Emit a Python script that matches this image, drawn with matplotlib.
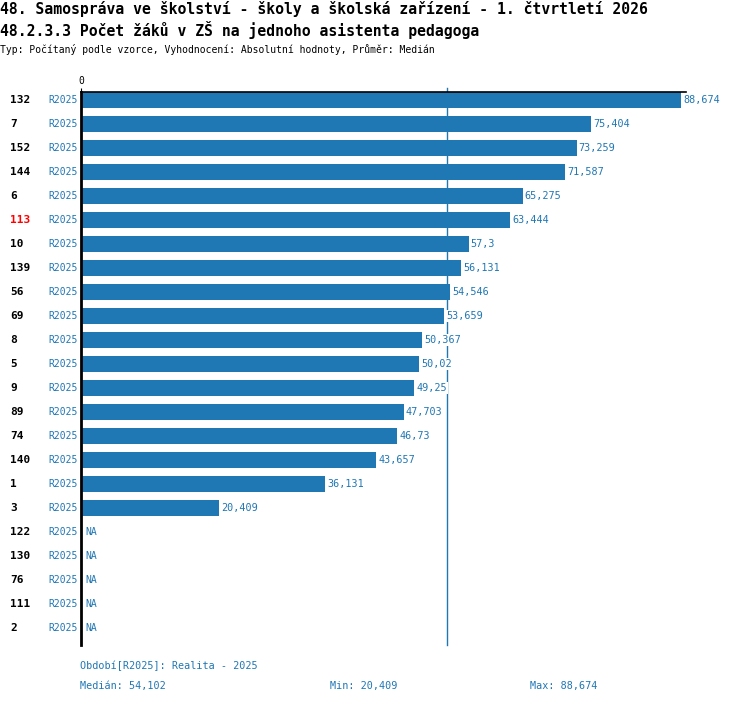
import matplotlib
matplotlib.use("Agg")
import matplotlib.pyplot as plt

# data
codes = ["132", "7", "152", "144", "6", "113", "10", "139", "56", "69", "8", "5",
         "9", "89", "74", "140", "1", "3", "122", "130", "76", "111", "2"]
values = [88.674, 75.404, 73.259, 71.587, 65.275, 63.444, 57.3, 56.131, 54.546,
          53.659, 50.367, 50.02, 49.25, 47.703, 46.73, 43.657, 36.131, 20.409,
          None, None, None, None, None]
period = "R2025"
highlight = "113"
median_val = 54.102
min_val = 20.409
max_val = 88.674

blue = "#1f77b4"
mono = "DejaVu Sans Mono"


def fmt(v):
    s = ("%.3f" % v).rstrip("0").rstrip(".")
    return s.replace(".", ",")


fig = plt.figure(figsize=(7.5, 7.04), dpi=100)
ax = fig.add_axes([0.108, 0.0838, 0.8067, 0.7855])

n = len(codes)
ys = list(range(n))
bar_vals = [v if v is not None else 0 for v in values]
ax.barh(ys, bar_vals, height=0.667, color=blue, zorder=2)

ax.set_xlim(0, max_val * 605 / 600)
ax.set_ylim(n - 1 + 17 / 24, -8 / 24)

# median line (pokracuje kousek nad osu)
ax.plot([median_val, median_val], [n - 1 + 17 / 24, -12 / 24], color=blue, lw=1,
        zorder=1, clip_on=False)

for y, v in zip(ys, values):
    if v is None:
        ax.text(0.6, y, "NA", color=blue, fontsize=7, family=mono,
                va="center", ha="left", zorder=3)
    else:
        ax.text(v + 0.3, y, fmt(v), color=blue, fontsize=7.3, family=mono,
                va="center", ha="left", zorder=3,
                bbox=dict(facecolor="white", edgecolor="none", pad=0.5))

# row labels (offsets in points, 1 px = 0.72 pt)
for y, c in zip(ys, codes):
    ax.annotate(c, xy=(0, y), xycoords=("axes fraction", "data"),
                xytext=(-51, 0), textcoords="offset points",
                fontsize=8, family=mono, fontweight="bold", va="center",
                ha="left", color="red" if c == highlight else "black")
    ax.annotate(period, xy=(0, y), xycoords=("axes fraction", "data"),
                xytext=(-2, 0), textcoords="offset points",
                fontsize=7, family=mono, va="center", ha="right", color=blue)

for s in ["right", "bottom"]:
    ax.spines[s].set_visible(False)
ax.spines["left"].set_linewidth(2)
ax.spines["top"].set_linewidth(1.2)
ax.set_yticks([])
ax.set_xticks([0])
ax.set_xticklabels(["0"], family=mono, fontsize=7)
ax.xaxis.tick_top()
ax.tick_params(axis="x", length=3, pad=1)

fig.text(0.0, 1 - 1 / 704, "48. Samospráva ve školství - školy a školská zařízení - 1. čtvrtletí 2026",
         fontsize=10.6, family=mono, fontweight="bold", va="top", ha="left")
fig.text(0.0, 1 - 21 / 704, "48.2.3.3 Počet žáků v ZŠ na jednoho asistenta pedagoga",
         fontsize=10.6, family=mono, fontweight="bold", va="top", ha="left")
fig.text(0.0, 1 - 44 / 704, "Typ: Počítaný podle vzorce, Vyhodnocení: Absolutní hodnoty, Průměr: Medián",
         fontsize=7, family=mono, va="top", ha="left")

fig.text(80 / 750, 1 - 666 / 704, "Období[R2025]: Realita - 2025",
         fontsize=7.3, family=mono, va="center", ha="left", color=blue)
fig.text(80 / 750, 1 - 686 / 704, "Medián: " + fmt(median_val),
         fontsize=7.3, family=mono, va="center", ha="left", color=blue)
fig.text(330 / 750, 1 - 686 / 704, "Min: " + fmt(min_val),
         fontsize=7.3, family=mono, va="center", ha="left", color=blue)
fig.text(530 / 750, 1 - 686 / 704, "Max: " + fmt(max_val),
         fontsize=7.3, family=mono, va="center", ha="left", color=blue)

fig.savefig("out.png", dpi=100)
